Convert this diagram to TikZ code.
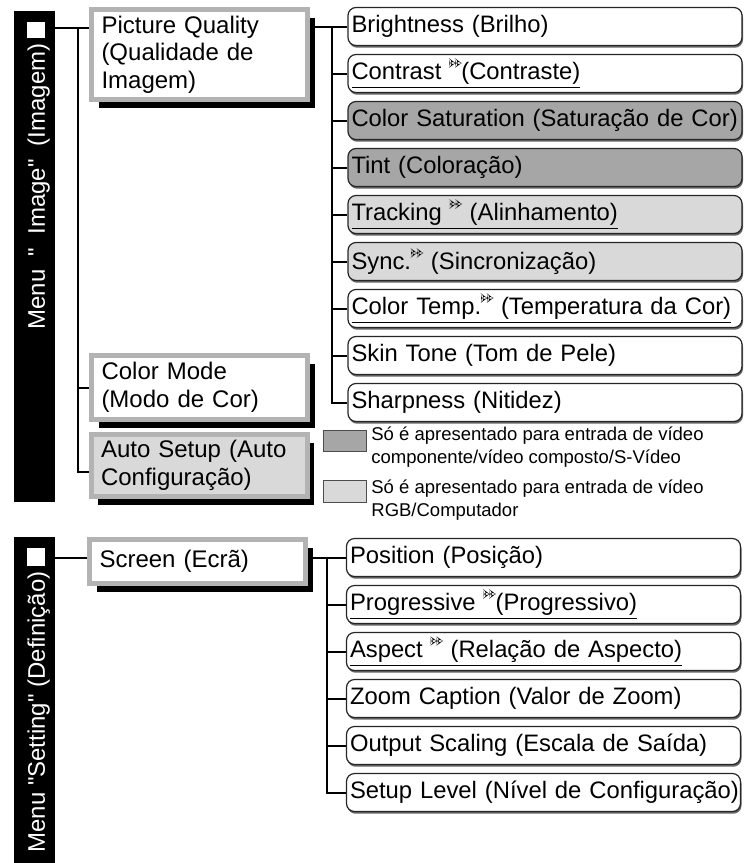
\documentclass[tikz,border=0pt]{standalone}
\usepackage{fontspec}
\setmainfont{Liberation Sans}
\newfontfamily\barfam{Liberation Sans}
\usepackage{tikz}
\usetikzlibrary{positioning,shadows,backgrounds}
\definecolor{framec}{HTML}{B3B3B3}
\definecolor{darkc}{HTML}{A6A6A6}
\definecolor{lightc}{HTML}{D9D9D9}
\newcommand{\boxfont}{\fontsize{12}{13.75}\selectfont}
\newcommand{\itemfont}{\fontsize{11.9}{13.5}\selectfont}
\newcommand{\keyfont}{\fontsize{9.25}{11.5}\selectfont}
\newcommand{\ffwd}{\tikz[x=1pt,y=1pt,baseline=-6pt]{\fill (0,0) -- (3,2.25) -- (0,4.5) -- cycle (3,0) -- (6,2.25) -- (3,4.5) -- cycle;}}

\begin{document}
\begin{tikzpicture}[x=0.5pt, y=-0.5pt,
  node distance=3.9pt,
  bar/.style={fill=black, minimum width=20.5pt, inner sep=0pt},
  barmark/.style={fill=white, minimum width=9pt, inner sep=0pt},
  bartxt/.style={text=white, font=\barfam\boxfont, rotate=90, anchor=base east, inner sep=0pt},
  group/.style={draw=framec, line width=2.5pt, fill=white, text width=98pt, inner xsep=5pt,
    inner ysep=0pt, align=left, font=\boxfont,
    general shadow={fill=black, shadow xshift=3.5pt, shadow yshift=-4pt}},
  item/.style={draw=black!85, line width=0.6pt, rounded corners=4pt, fill=white,
    minimum height=19pt, text width=193.5pt, inner xsep=1.75pt, inner ysep=0pt,
    align=left, font=\itemfont,
    execute at begin node={\hbox to\hsize\bgroup}, execute at end node={\hss\egroup},
    general shadow={fill=black!60, shadow xshift=0.5pt, shadow yshift=-1.1pt}},
  swatch/.style={draw=black!70, line width=0.5pt, minimum width=21.5pt, inner sep=0pt},
  keytxt/.style={anchor=north west, align=left, font=\keyfont, inner sep=0pt},
  link/.style={line width=1pt}
]
  \useasboundingbox (0,0) rectangle (744,863);

  % menu bars
  \node[bar, minimum height=245.5pt] (menuA) at (34.5,256.5) {};
  \node[barmark, minimum height=8pt] (markA) at (36,30) {};
  \node[bartxt] (menuAtxt) at (45,43) {\spaceskip=0.55em\relax Menu " Image" (Imagem)};
  \node[bar, minimum height=163pt] (menuB) at (34.5,700) {};
  \node[barmark, minimum height=9pt] (markB) at (36,557) {};
  \node[bartxt] (menuBtxt) at (45,571) {Menu "Setting" (Definição)};

  % sub menus
  \node[group, minimum height=45pt] (pq) at (199.5,54.5) {Picture Quality\\(Qualidade de\\Imagem)};
  \node[group, minimum height=32pt] (cmode) at (199.5,387.5) {Color Mode\\(Modo de Cor)};
  \node[group, fill=lightc, minimum height=31pt] (autoset) at (199,465.5) {Auto Setup (Auto\\Configuração)};
  \node[group, minimum height=22pt] (screen) at (197.5,561.5) {Screen (Ecrã)};

  % picture quality items
  \node[item] (bright) at (545,26.5) {Brightness (Brilho)};
  \node[item, below=of bright] (contrast) {\underline{Contrast \ffwd(Contraste)}};
  \node[item, fill=darkc, below=of contrast] (colsat) {Color Saturation (Saturação de Cor)};
  \node[item, fill=darkc, below=of colsat] (tint) {Tint (Coloração)};
  \node[item, fill=lightc, below=of tint] (track) {\underline{Tracking \ffwd\ (Alinhamento)}};
  \node[item, fill=lightc, below=of track] (sync) {Sync.\ffwd\ (Sincronização)};
  \node[item, below=of sync] (ctemp) {\underline{Color Temp.\ffwd\ (Temperatura da Cor)}};
  \node[item, below=of ctemp] (skin) {Skin Tone (Tom de Pele)};
  \node[item, below=of skin] (sharp) {Sharpness (Nitidez)};

  % screen items
  \node[item] (pos) at (543.5,557.5) {Position (Posição)};
  \node[item, below=of pos] (prog) {\underline{Progressive \ffwd(Progressivo)}};
  \node[item, below=of prog] (aspect) {\underline{Aspect \ffwd\ (Relação de Aspecto)}};
  \node[item, below=of aspect] (zoomcap) {Zoom Caption (Valor de Zoom)};
  \node[item, below=of zoomcap] (outscale) {Output Scaling (Escala de Saída)};
  \node[item, below=of outscale] (setlvl) {Setup Level (Nível de Configuração)};

  % legend
  \node[swatch, fill=darkc, minimum height=10.5pt] (keyA) at (344.5,440.5) {};
  \node[keytxt] (keyAtxt) at (371,426.5) {Só é apresentado para entrada de vídeo\\componente/vídeo composto/S-Vídeo};
  \node[swatch, fill=lightc, minimum height=11pt] (keyB) at (344.5,491) {};
  \node[keytxt] (keyBtxt) at (371,479.5) {Só é apresentado para entrada de vídeo\\RGB/Computador};

  \begin{scope}[on background layer]
    \coordinate (trunkA) at (77.5,28);
    \draw[link] (menuA.east |- trunkA) -- (pq.west |- trunkA);
    \draw[link] (trunkA) |- ([yshift=-3pt]autoset.west);
    \draw[link] (trunkA |- cmode.west) -- (cmode.west);

    \coordinate (spineA) at (332,26.5);
    \draw[link] (pq.east |- bright.west) -- (bright.west);
    \draw[link] (spineA) |- (sharp.west);
    \foreach \n in {contrast,colsat,tint,track,sync,ctemp,skin}
      \draw[link] (spineA |- \n.west) -- (\n.west);

    \coordinate (spineB) at (327,557.5);
    \draw[link] (menuB.east |- pos.west) -- (screen.west |- pos.west);
    \draw[link] (screen.east |- pos.west) -- (pos.west);
    \draw[link] (spineB) |- (setlvl.west);
    \foreach \n in {prog,aspect,zoomcap,outscale}
      \draw[link] (spineB |- \n.west) -- (\n.west);
  \end{scope}
\end{tikzpicture}
\end{document}
